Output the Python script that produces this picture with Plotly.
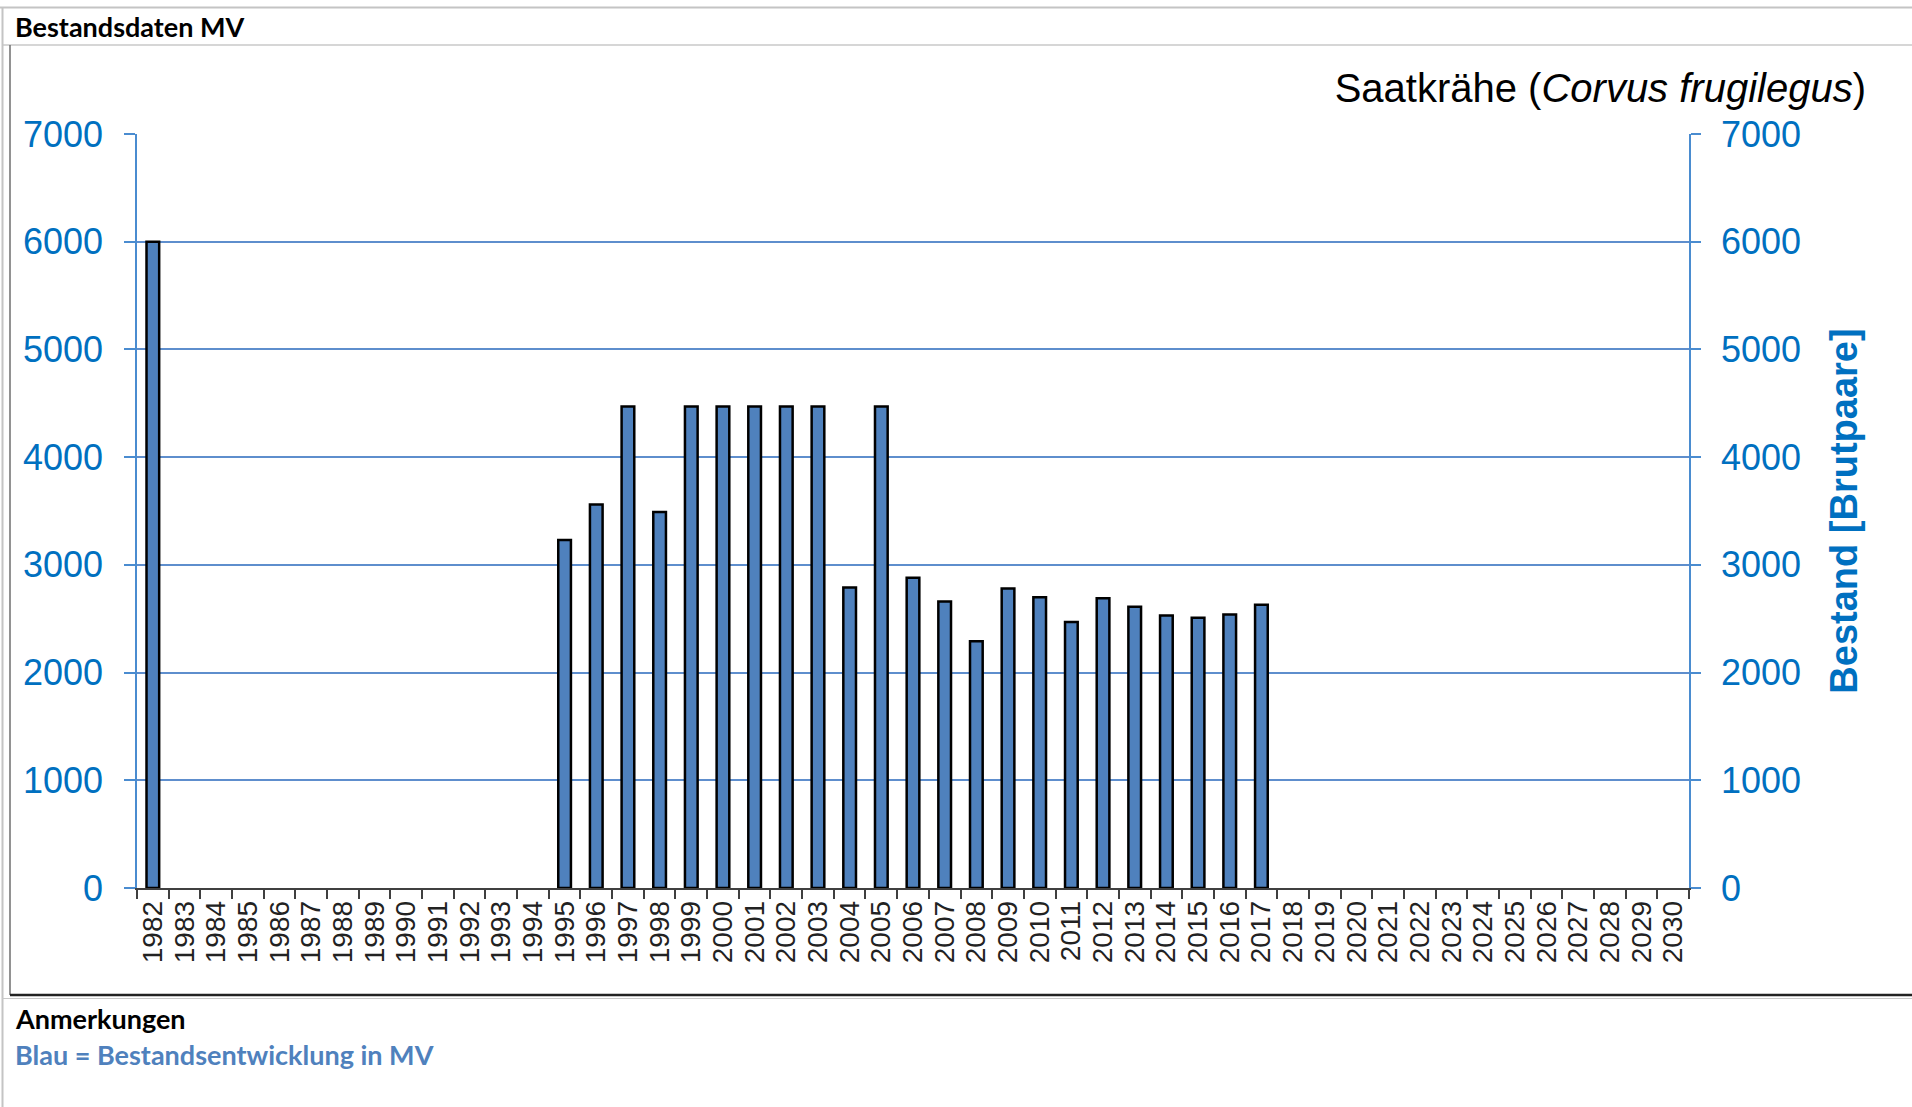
import plotly.graph_objects as go

# ---- data ----
years = [str(y) for y in range(1982, 2031)]
values_by_year = {
    "1982": 6000,
    "1995": 3230, "1996": 3560, "1997": 4470, "1998": 3490, "1999": 4470,
    "2000": 4470, "2001": 4470, "2002": 4470, "2003": 4470, "2004": 2790,
    "2005": 4470, "2006": 2880, "2007": 2660, "2008": 2290, "2009": 2780,
    "2010": 2700, "2011": 2470, "2012": 2690, "2013": 2610, "2014": 2530,
    "2015": 2510, "2016": 2540, "2017": 2630,
}
values = [values_by_year.get(y) for y in years]
y_ticks = [0, 1000, 2000, 3000, 4000, 5000, 6000, 7000]

title_plain = "Saatkrähe ("
title_italic = "Corvus frugilegus"
header = "Bestandsdaten MV"
notes_head = "Anmerkungen"
notes_text = "Blau = Bestandsentwicklung in MV"
y2_title = "Bestand [Brutpaare]"

# ---- geometry ----
W, H = 1912, 1107
L, R, T, B = 137, 1689, 134, 888
PW, PH = R - L, B - T


def px(x):
    return (x - L) / PW


def py(y):
    return (B - y) / PH


BLUE_TXT = "#0070C0"
BLUE_AXIS = "#4A8CD0"
BLUE_GRID = "#5E8ECD"
BAR_FILL = "#4F81BD"

fig = go.Figure()
fig.add_trace(go.Bar(
    x=years, y=values,
    marker=dict(color=BAR_FILL, line=dict(color="black", width=2.5)),
    showlegend=False,
    hovertemplate="%{x}: %{y}<extra></extra>",
))

fig.update_layout(
    width=W, height=H,
    margin=dict(l=L, r=W - R, t=T, b=H - B, autoexpand=False),
    paper_bgcolor="white", plot_bgcolor="white",
    bargap=0.6,
    font=dict(family="Liberation Sans, Arial, sans-serif"),
    title=dict(
        text=f"{title_plain}<i>{title_italic}</i>)",
        xref="container", yref="container",
        x=1866 / W, xanchor="right",
        y=1 - 88 / H, yanchor="middle",
        font=dict(size=40, color="black", family="Liberation Sans, Arial"),
    ),
    xaxis=dict(
        type="category", categoryorder="array", categoryarray=years,
        range=[-0.5, len(years) - 0.5], dtick=1,
        tickangle=-90, tickfont=dict(size=28, color="#222222"),
        ticks="outside", tickson="boundaries", ticklen=9, tickcolor="#404040",
        tickwidth=1.5,
        showline=True, linecolor="#404040", linewidth=1.5,
        showgrid=False, fixedrange=True,
    ),
    yaxis=dict(
        range=[0, 7000], tickvals=y_ticks,
        tickfont=dict(size=36, color=BLUE_TXT),
        ticks="outside", ticklen=11, tickcolor=BLUE_AXIS, tickwidth=1.5,
        showline=True, linecolor=BLUE_AXIS, linewidth=1.5,
        showgrid=True, gridcolor=BLUE_GRID, gridwidth=1.5,
        zeroline=False, ticklabelstandoff=14,
    ),
    yaxis2=dict(
        range=[0, 7000], tickvals=y_ticks, overlaying="y", side="right",
        matches="y",
        tickfont=dict(size=36, color=BLUE_TXT),
        ticks="outside", ticklen=10, tickcolor=BLUE_AXIS, tickwidth=1.5,
        showline=True, linecolor=BLUE_AXIS, linewidth=1.5,
        showgrid=False, zeroline=False, ticklabelstandoff=13,
        title=dict(text=f"<b>{y2_title}</b>", font=dict(size=38, color=BLUE_TXT),
                   standoff=30),
    ),
)

# invisible helper so the right axis is drawn
fig.add_trace(go.Scatter(x=years, y=values, yaxis="y2", mode="markers",
                         marker=dict(opacity=0, size=1), showlegend=False,
                         hoverinfo="skip"))

# ---- frame lines ----
shapes = []
def hline(y, x0, x1, color, w):
    shapes.append(dict(type="line", xref="paper", yref="paper",
                       x0=px(x0), x1=px(x1), y0=py(y), y1=py(y),
                       line=dict(color=color, width=w)))

def vline(x, y0, y1, color, w):
    shapes.append(dict(type="line", xref="paper", yref="paper",
                       x0=px(x), x1=px(x), y0=py(y0), y1=py(y1),
                       line=dict(color=color, width=w)))

hline(7.5, 0, W, "#c4c4c4", 2)
hline(45, 2, W, "#c8c8c8", 1.5)
vline(2.5, 7, H, "#c4c4c4", 2)
vline(10, 45, 995, "#6e6e6e", 1.5)
hline(995, 10, W, "#222222", 2.5)
hline(998.5, 2, W, "#c8c8c8", 1.2)
fig.update_layout(shapes=shapes)

# ---- text annotations ----
def note(text, x, y, size, color):
    fig.add_annotation(text=text, xref="paper", yref="paper",
                       x=px(x), y=py(y), xanchor="left", yanchor="middle",
                       showarrow=False,
                       font=dict(family="Lato, Open Sans, sans-serif", size=size, color=color))

note(f"<b>{header}</b>", 13, 27, 27, "black")
note(f"<b>{notes_head}</b>", 13, 1018, 27, "black")
note(f"<b>{notes_text}</b>", 13, 1054, 27, BAR_FILL)

fig.write_html(
    "out.html",
    config={"displayModeBar": False},
    post_script="document.body.style.margin='0';document.body.style.overflow='hidden';",
)
